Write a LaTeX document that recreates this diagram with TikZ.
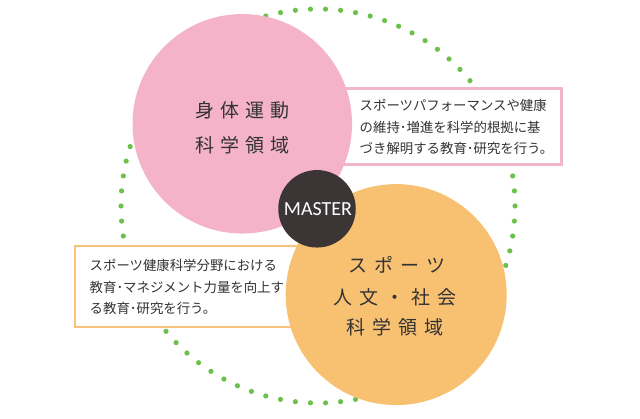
\documentclass[tikz,border=0pt]{standalone}
\usepackage{fontspec}
\newfontfamily\jpfont{Noto Sans CJK JP}
\newfontfamily\latfont{Carlito}
\definecolor{pinkc}{HTML}{F4B3C9}
\definecolor{orangec}{HTML}{F8C172}
\definecolor{pinkline}{HTML}{F2B6CB}
\definecolor{orangeline}{HTML}{F9C27A}
\definecolor{dotgreen}{HTML}{6CC04B}
\definecolor{masterc}{HTML}{3B3536}
\definecolor{txt}{HTML}{333333}
\newcommand\kgapA{\hspace{6pt}}
\newcommand\kgapB{\hspace{7pt}}
\tikzset{
  bigcirc/.style={circle, inner sep=0pt, minimum size=220pt},
  infobox/.style={rectangle, fill=white, line width=2.4pt, inner sep=0pt},
  infotext/.style={anchor=west, align=left, inner sep=0pt, text=txt,
    font=\jpfont\fontsize{13.4}{21.8}\selectfont},
  circtext/.style={text=txt, inner sep=0pt, font=\jpfont\fontsize{19}{19}\selectfont},
}
\begin{document}
\begin{tikzpicture}[x=1pt,y=-1pt]
\useasboundingbox (0,0) rectangle (640,419);
% dotted ring
\coordinate (dc) at (318,206);
\foreach \i in {0,...,81}
  \fill[dotgreen] (dc) ++({272.195+\i*4.390244}:197) circle[radius=2.6];
% boxes
\node (rbox) [infobox, draw=pinkline, minimum width=231.5pt, minimum height=75.8pt] at (445.75,126.6) {};
\node (lbox) [infobox, draw=orangeline, minimum width=225pt, minimum height=81pt] at (187.5,286.5) {};
% big circles
\node (pink) [bigcirc, fill=pinkc, minimum size=219.5pt] at (242.3,123.8) {};
\node (orange) [bigcirc, fill=orangec, minimum size=221pt] at (396.2,294.6) {};
% master
\node (master) [circle, fill=masterc, minimum size=77.5pt, inner sep=0pt] at (317,208.8) {};
\node (mastertxt) [text=white, inner sep=0pt, font=\latfont\fontsize{20}{20}\selectfont] at (318,209.5) {MASTER};
% box texts
\node (rtext) [infotext] at (359.5,127) {スポーツパフォーマンスや健康\\の維持･増進を科学的根拠に基\\づき解明する教育･研究を行う。};
\node (ltext) [infotext] at (89.5,287) {スポーツ健康科学分野における\\教育･マネジメント力量を向上す\\る教育･研究を行う。};
% circle texts
\node (p1) [circtext] at (242.5,110) {身\kgapA 体\kgapA 運\kgapA 動};
\node (p2) [circtext] at (242.5,145) {科\kgapA 学\kgapA 領\kgapA 域};
\node (o1) [circtext] at (397,265) {ス\kgapB ポ\kgapB ー\kgapB ツ};
\node (o2) [circtext] at (395,297) {人\kgapB 文\kgapB ・\kgapB 社\kgapB 会};
\node (o3) [circtext] at (395,327) {科\kgapB 学\kgapB 領\kgapB 域};
\end{tikzpicture}
\end{document}
